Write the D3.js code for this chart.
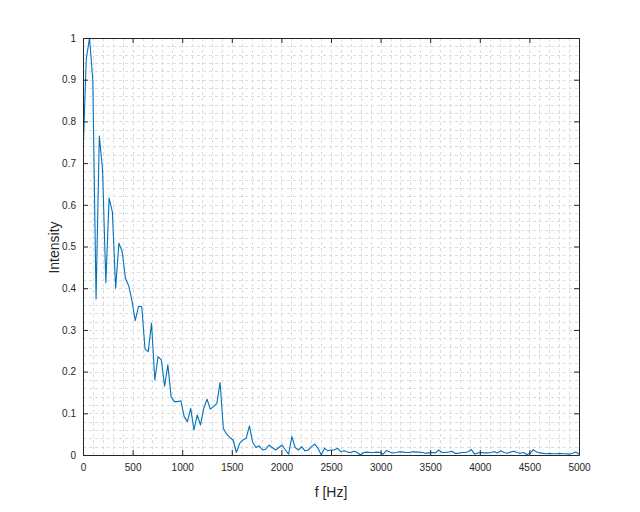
<!DOCTYPE html>
<html>
<head>
<meta charset="utf-8">
<script src="https://cdn.jsdelivr.net/npm/d3@7"></script>
<style>
  html, body { margin: 0; padding: 0; background: #ffffff; }
  svg { display: block; }
  text { font-family: Helvetica, Arial, "Liberation Sans", sans-serif; fill: #262626; }
</style>
</head>
<body>
<svg id="chart" width="640" height="512"></svg>
<script>
// ---- Data ----
// spacing of the spectrum bins, Hz
const binWidth = 32.9;
// intensity for each bin, starting at 0 Hz
const intensity = [
  0.72, 0.95, 1.0, 0.90, 0.374, 0.765, 0.683, 0.413, 0.616, 0.583,
  0.40, 0.508, 0.488, 0.424, 0.406, 0.37, 0.322, 0.356, 0.356, 0.254,
  0.248, 0.316, 0.18, 0.236, 0.228, 0.165, 0.216, 0.14, 0.128, 0.128,
  0.13, 0.092, 0.08, 0.112, 0.06, 0.096, 0.072, 0.112, 0.134, 0.11,
  0.116, 0.124, 0.174, 0.064, 0.05, 0.042, 0.036, 0.006, 0.028, 0.036,
  0.04, 0.07, 0.03, 0.018, 0.022, 0.012, 0.014, 0.024, 0.018, 0.012,
  0.018, 0.024, 0.012, 0.002, 0.044, 0.018, 0.012, 0.02, 0.01, 0.012,
  0.02, 0.026, 0.016, 0.0, 0.016, 0.01, 0.012, 0.012, 0.016, 0.008,
  0.01, 0.007, 0.006, 0.009, 0.006, 0.0, 0.006, 0.007, 0.006, 0.006,
  0.007, 0.006, 0.002, 0.011, 0.007, 0.005, 0.006, 0.008, 0.007, 0.006,
  0.006, 0.008, 0.007, 0.007, 0.006, 0.004, 0.005, 0.006, 0.005, 0.012,
  0.006, 0.006, 0.007, 0.009, 0.004, 0.004, 0.006, 0.006, 0.008, 0.013,
  0.002, 0.005, 0.006, 0.005, 0.005, 0.006, 0.008, 0.005, 0.01, 0.006,
  0.004, 0.007, 0.009, 0.006, 0.004, 0.006, 0.001, 0.004, 0.013, 0.007,
  0.005, 0.004, 0.003, 0.004, 0.003, 0.003, 0.004, 0.003, 0.003, 0.002,
  0.004, 0.007, 0.002
];
const xTicks = [0, 500, 1000, 1500, 2000, 2500, 3000, 3500, 4000, 4500, 5000];
const yTicks = [0, 0.1, 0.2, 0.3, 0.4, 0.5, 0.6, 0.7, 0.8, 0.9, 1];
const xMinorTicks = d3.range(0, 5001, 100);
const yMinorTicks = d3.range(0, 51).map(i => i / 50);
const xLabel = "f [Hz]";
const yLabel = "Intensity";

// ---- Layout ----
const pLeft = 83, pRight = 579, pTop = 38, pBottom = 455;
const svg = d3.select("#chart");

const x = d3.scaleLinear().domain([0, 5000]).range([pLeft, pRight]);
const y = d3.scaleLinear().domain([0, 1]).range([pBottom, pTop]);

const axisColor = "#262626";
const gridColor = "#dcdcdc";

// grid (minor + major, all dashed light gray)
const grid = svg.append("g");
grid.selectAll("line.vx").data(xMinorTicks.filter(v => v > 0 && v < 5000)).join("line")
  .attr("x1", d => Math.round(x(d)) + 0.5).attr("x2", d => Math.round(x(d)) + 0.5)
  .attr("y1", pTop).attr("y2", pBottom)
  .attr("stroke", gridColor).attr("stroke-width", 1).attr("stroke-dasharray", "3,3");
grid.selectAll("line.hy").data(yMinorTicks.filter(v => v > 0 && v < 1)).join("line")
  .attr("y1", d => Math.round(y(d)) + 0.5).attr("y2", d => Math.round(y(d)) + 0.5)
  .attr("x1", pLeft).attr("x2", pRight)
  .attr("stroke", gridColor).attr("stroke-width", 1).attr("stroke-dasharray", "3,3");

// data line
const clipId = "plotclip";
svg.append("clipPath").attr("id", clipId).append("rect")
  .attr("x", pLeft).attr("y", pTop - 2).attr("width", pRight - pLeft).attr("height", pBottom - pTop + 4);

const line = d3.line()
  .x((d, i) => x(i * binWidth))
  .y(d => y(d));

svg.append("path")
  .datum(intensity)
  .attr("clip-path", `url(#${clipId})`)
  .attr("fill", "none")
  .attr("stroke", "#0072BD")
  .attr("stroke-width", 1.1)
  .attr("stroke-linejoin", "round")
  .attr("d", line);

// axes (box with inward ticks on all sides)
const tickLen = 5;
const xAxisB = d3.axisBottom(x).tickValues(xTicks).tickSizeInner(-tickLen).tickSizeOuter(0).tickPadding(9).tickFormat(d3.format("d"));
const xAxisT = d3.axisTop(x).tickValues(xTicks).tickSizeInner(-tickLen).tickSizeOuter(0).tickFormat("");
const yAxisL = d3.axisLeft(y).tickValues(yTicks).tickSizeInner(-tickLen).tickSizeOuter(0).tickPadding(7).tickFormat(d => d === 0 || d === 1 ? d3.format("d")(d) : d3.format(".1f")(d));
const yAxisR = d3.axisRight(y).tickValues(yTicks).tickSizeInner(-tickLen).tickSizeOuter(0).tickFormat("");

function styleAxis(g) {
  g.select(".domain").attr("stroke", axisColor).attr("stroke-width", 1);
  g.selectAll(".tick line").attr("stroke", axisColor).attr("stroke-width", 1);
  g.selectAll(".tick text").attr("fill", axisColor).style("font-size", "10px")
    .style("font-family", "Helvetica, Arial, 'Liberation Sans', sans-serif");
}

svg.append("g").attr("transform", `translate(0,${pBottom})`).call(xAxisB).call(styleAxis);
svg.append("g").attr("transform", `translate(0,${pTop})`).call(xAxisT).call(styleAxis);
svg.append("g").attr("transform", `translate(${pLeft},0)`).call(yAxisL).call(styleAxis);
svg.append("g").attr("transform", `translate(${pRight},0)`).call(yAxisR).call(styleAxis);

// labels
svg.append("text")
  .attr("x", (pLeft + pRight) / 2).attr("y", 497)
  .attr("text-anchor", "middle")
  .style("font-size", "14px")
  .text(xLabel);

svg.append("text")
  .attr("transform", `translate(59,${(pTop + pBottom) / 2 + 1}) rotate(-90)`)
  .attr("text-anchor", "middle")
  .style("font-size", "14px")
  .text(yLabel);
</script>
</body>
</html>
